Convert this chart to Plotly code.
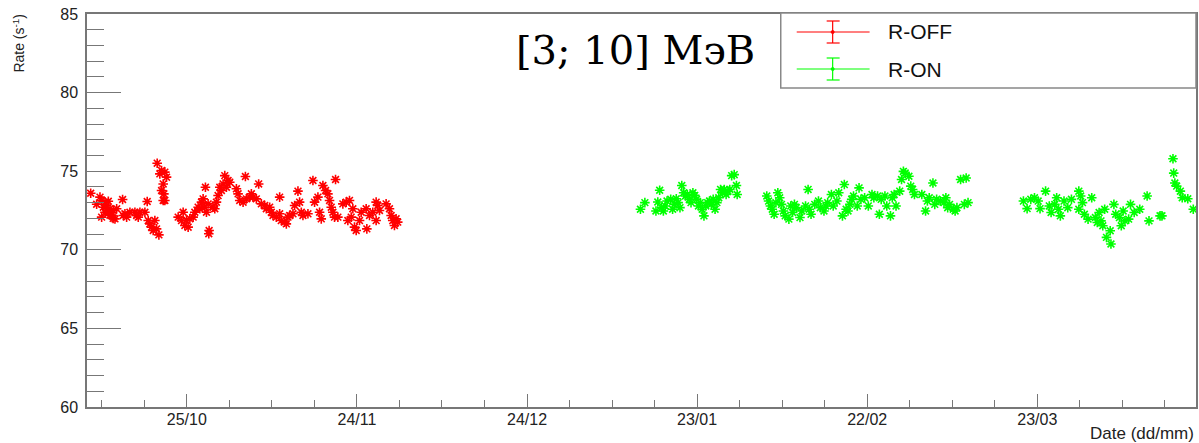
import pandas as pd
import plotly.graph_objects as go

# Measurement times are stored as days elapsed since this reference date
T0 = pd.Timestamp("2019-10-01")

# Reactor OFF period: count rate in [3; 10] MeV window
off_days = [
    7.04, 8.09, 8.68, 8.97, 9.56, 10.15, 9.27, 9.85, 10.44, 11.03, 10.73, 8.97, 11.32, 11.62, 10.15, 9.56, 10.44, 11.00,
    12.67, 12.79, 13.08, 13.38, 13.96, 14.84, 15.14, 15.43, 15.72, 16.60,
    17.01, 17.19, 17.48, 17.78, 18.07, 18.36, 18.66, 19.07,
    18.77, 19.24, 19.54, 20.12, 19.83, 19.54, 20.42, 19.95, 20.12, 19.83,
    22.47, 23.06, 23.35, 23.65, 23.94, 24.23, 24.53, 25.11, 25.41, 25.99, 26.29, 26.58, 26.87, 27.17, 27.46, 27.75,
    27.28, 27.87, 27.93,
    28.63, 28.93, 29.22, 29.51, 29.81, 30.10, 30.39, 30.69, 30.98, 31.27, 31.57,
    32.74, 33.04, 33.33, 33.92, 34.33, 34.50, 35.09, 35.38, 35.68, 36.26, 36.67,
    37.14, 37.73, 38.02, 38.61, 38.90, 39.20, 39.78, 40.37, 40.37, 40.66, 41.25, 41.55, 41.84, 42.13, 42.72, 43.01,
    43.60, 43.89, 44.19, 44.48,
    45.36, 46.24, 46.53, 47.12, 47.41, 47.71, 48.00, 48.47, 48.88, 49.17, 49.47, 49.76, 50.05, 50.23, 50.64,
    51.52, 52.11, 52.40, 52.69, 52.99, 53.28, 53.57, 53.87, 54.46, 54.75,
    55.63, 55.75, 56.22, 56.80, 57.39, 57.39, 57.68, 57.98, 59.15, 59.74, 60.03, 60.32, 60.62, 60.91, 61.20,
]
off_rate = [
    73.60, 72.90, 73.35, 73.14, 73.03, 73.09, 72.71, 72.82, 72.61, 72.50, 72.18, 72.08, 71.97, 72.61, 72.39, 72.39, 72.20, 72.00,
    73.20, 72.18, 72.29, 72.08, 72.39, 72.39, 72.18, 72.08, 72.39, 72.39,
    73.07, 71.86, 71.65, 71.44, 71.23, 71.86, 71.33, 70.95,
    75.51, 74.83, 75.04, 74.94, 74.19, 73.77, 74.62, 73.56, 73.14, 73.14,
    72.08, 71.86, 72.39, 71.55, 71.86, 71.44, 71.97, 72.08, 72.39, 72.71, 72.61, 73.03, 73.24, 72.71, 72.39, 72.92,
    73.98, 71.02, 71.23,
    72.71, 72.61, 73.03, 73.45, 73.98, 73.77, 74.19, 74.72, 73.98, 74.41, 74.30,
    73.88, 73.56, 73.14, 73.03, 74.66, 73.24, 73.35, 73.56, 73.35, 73.24, 74.19,
    72.92, 72.82, 72.61, 72.71, 72.39, 72.18, 72.08, 72.29, 73.35, 71.86, 71.76, 71.65, 72.08, 72.18, 72.29, 72.82,
    73.73, 73.03, 72.39, 72.18,
    72.29, 74.41, 73.03, 73.35, 72.39, 71.97, 74.09, 73.77, 73.56, 73.14, 72.71, 72.39, 72.08, 74.47, 72.08,
    72.92, 73.03, 71.86, 73.14, 72.08, 72.61, 71.44, 71.23, 71.86, 72.39,
    72.61, 71.33, 72.18, 72.39, 73.03, 71.86, 72.82, 72.50, 72.92, 72.61, 72.18, 71.86, 71.55, 71.97, 71.76,
]

# Reactor ON period
on_days = [
    104.01, 104.79, 107.07, 107.40, 106.74, 107.72, 108.05, 108.37, 108.70, 109.35, 109.68, 110.00, 110.33, 110.65,
    110.98, 111.30, 111.63, 111.96, 112.28, 112.61, 112.93, 113.26, 113.58, 113.91, 114.24, 114.56, 114.89, 115.21,
    115.54, 115.86, 116.19, 116.52, 116.84, 117.17, 117.49, 117.82, 118.14, 118.47, 118.79, 119.12, 119.45, 119.77,
    120.10, 120.55, 120.94, 121.07,
    126.29, 126.61, 126.94, 127.26, 127.59, 127.91, 128.24, 128.57, 128.89, 129.22, 129.54, 130.19, 130.52, 130.85,
    131.17, 131.50, 132.15, 132.47, 133.13, 133.58, 133.78, 134.10, 134.75, 135.41, 135.73, 136.38, 136.71, 137.03,
    137.69, 138.01, 138.66, 138.99, 139.64, 139.97, 140.29, 140.62, 140.94, 141.27, 141.59, 142.25, 142.57, 142.90,
    143.55, 144.20, 144.85, 145.18, 145.83, 146.15, 146.48, 147.13, 147.46, 148.11, 148.43, 148.76, 149.09, 149.74,
    150.06, 150.39, 150.71, 151.36, 151.69, 152.02, 152.34, 153.64, 154.30, 154.62, 154.95, 155.60, 155.92, 156.25,
    156.90, 157.55, 157.88, 158.20, 158.53, 159.18, 159.51, 159.83, 160.48, 161.14, 161.46, 161.79,
    171.56, 172.21, 172.86, 173.51, 174.16, 174.49, 175.47, 176.12, 176.44, 177.10, 177.42, 177.75, 178.07, 178.72,
    179.38, 180.03, 181.33, 181.33, 181.66, 181.98, 182.31, 182.96, 183.61, 184.26, 184.59, 184.91, 185.24, 185.56,
    185.89, 186.21, 186.87, 187.00, 187.52, 187.84, 188.49, 188.82, 189.15, 189.47, 190.12, 190.45, 191.10, 192.08,
    193.38, 193.71, 195.66, 195.99, 197.94, 198.07, 198.27, 198.59, 199.24, 199.57, 200.55, 201.52,
]
on_rate = [
    72.58, 73.00, 73.04, 73.79, 72.47, 72.68, 72.47, 72.79, 73.10, 73.21, 72.58, 72.89, 73.25, 73.00,
    72.68, 74.09, 73.63, 73.42, 73.52, 73.21, 73.00, 73.63, 73.46, 73.21, 72.79, 73.00, 72.58, 72.16,
    72.79, 73.00, 73.10, 72.89, 73.21, 72.58, 73.00, 73.31, 73.84, 73.63, 73.84, 73.52, 73.73, 73.84,
    74.72, 74.78, 74.09, 73.52,
    73.42, 73.10, 72.79, 72.58, 72.26, 73.00, 73.63, 73.31, 72.89, 72.47, 72.16, 71.95, 72.79, 72.37,
    72.89, 72.68, 72.05, 72.47, 72.79, 73.84, 72.58, 72.26, 72.89, 73.10, 72.68, 72.47, 72.79, 73.00,
    73.52, 72.79, 73.10, 73.63, 72.16, 74.15, 72.58, 72.47, 72.89, 73.21, 73.42, 72.79, 73.94, 73.21,
    73.31, 72.79, 73.52, 73.31, 73.42, 72.26, 73.21, 73.42, 72.79, 72.16, 73.31, 73.52, 72.79, 73.73,
    74.47, 74.99, 74.88, 74.68, 74.05, 73.84, 73.52, 73.52, 72.47, 73.10, 73.31, 74.25, 72.89, 73.21,
    73.10, 73.00, 73.31, 72.68, 72.89, 72.58, 72.47, 72.68, 74.47, 72.89, 74.57, 73.00,
    73.10, 72.62, 73.21, 73.31, 73.10, 72.62, 73.73, 72.79, 72.37, 72.89, 73.31, 72.58, 72.16, 73.10,
    72.68, 73.21, 73.73, 72.58, 73.42, 73.00, 72.26, 71.95, 73.31, 72.05, 71.74, 72.37, 71.84, 71.53,
    72.58, 70.79, 71.21, 70.37, 72.89, 72.26, 72.05, 71.53, 72.47, 71.84, 71.95, 72.89, 72.37, 72.58,
    73.42, 71.84, 72.16, 72.16, 75.79, 74.88, 74.25, 74.05, 73.73, 73.31, 73.25, 72.58,
]

tick_dates = ["2019-10-25", "2019-11-24", "2019-12-24", "2020-01-23", "2020-02-22", "2020-03-23"]
tick_text = ["25/10", "24/11", "24/12", "23/01", "22/02", "23/03"]
y_ticks = [60, 65, 70, 75, 80, 85]
x_window = [6.39, 202.0]  # days since T0 shown on the time axis

off_t = T0 + pd.to_timedelta(off_days, unit="D")
on_t = T0 + pd.to_timedelta(on_days, unit="D")
x_range = list(T0 + pd.to_timedelta(x_window, unit="D"))

W, H = 1199, 443
ML, MR, MT, MB = 87, 1, 14, 36
PW, PH = W - ML - MR, H - MT - MB


def px(x):
    return (x - ML) / PW


def py(y):
    return (MT + PH - y) / PH


SANS = "Liberation Sans, Arial, Helvetica, sans-serif"
RED, GREEN = "#ff0000", "#00ff00"
FRAME = "#777777"

fig = go.Figure()
for t, r, c, name in [(off_t, off_rate, RED, "R-OFF"), (on_t, on_rate, GREEN, "R-ON")]:
    fig.add_trace(go.Scatter(
        x=t, y=r, mode="markers", name=name, showlegend=False,
        marker=dict(symbol="asterisk", size=8, color=c, line=dict(color=c, width=1.6)),
    ))

fig.update_layout(
    width=W, height=H,
    margin=dict(l=ML, r=MR, t=MT, b=MB, pad=0),
    paper_bgcolor="white", plot_bgcolor="white",
    font=dict(family=SANS, color="#222222"),
    xaxis=dict(
        type="date", range=x_range,
        tickvals=tick_dates, ticktext=tick_text,
        ticks="inside", ticklen=13, tickwidth=1, tickcolor=FRAME,
        minor=dict(ticks="inside", ticklen=7, tickwidth=1, tickcolor=FRAME,
                   dtick=7.5 * 86400000, tick0="2019-10-25", showgrid=False),
        showline=True, linecolor=FRAME, linewidth=1.5, mirror=True,
        showgrid=False, zeroline=False,
        tickfont=dict(size=16, family=SANS, color="#222222"),
        ticklabelstandoff=-3,
    ),
    yaxis=dict(
        range=[60, 85], tickvals=y_ticks,
        ticks="inside", ticklen=34, tickwidth=1, tickcolor=FRAME,
        minor=dict(ticks="inside", ticklen=17, tickwidth=1, tickcolor=FRAME, dtick=1, showgrid=False),
        showline=True, linecolor=FRAME, linewidth=1.5, mirror=True,
        showgrid=False, zeroline=False,
        tickfont=dict(size=16, family=SANS, color="#222222"),
        ticklabelstandoff=4,
    ),
)

shapes = []
annotations = []

# Legend box with error-bar style entries
shapes.append(dict(type="rect", xref="paper", yref="paper",
                   x0=px(782), x1=px(1198), y0=py(88), y1=py(13),
                   line=dict(color="#888888", width=1.5), fillcolor="white", layer="above"))
for color, yc, label in [(RED, 32, "R-OFF"), (GREEN, 69, "R-ON")]:
    seg = dict(xref="paper", yref="paper", type="line", line=dict(color=color, width=1.2), layer="above")
    shapes.append(dict(seg, x0=px(798), x1=px(871), y0=py(yc), y1=py(yc)))
    shapes.append(dict(seg, x0=px(834), x1=px(834), y0=py(yc - 11), y1=py(yc + 11)))
    shapes.append(dict(seg, x0=px(828), x1=px(841), y0=py(yc - 11), y1=py(yc - 11)))
    shapes.append(dict(seg, x0=px(828), x1=px(841), y0=py(yc + 11), y1=py(yc + 11)))
    shapes.append(dict(type="circle", xref="paper", yref="paper", layer="above",
                       x0=px(832.5), x1=px(835.5), y0=py(yc + 1.5), y1=py(yc - 1.5),
                       line=dict(color=color, width=1), fillcolor=color))
    annotations.append(dict(text=label, xref="paper", yref="paper", x=px(887), y=py(yc),
                            xanchor="left", yanchor="middle", showarrow=False,
                            font=dict(size=21, family=SANS, color="#111111")))

# Energy window label
annotations.append(dict(text="[3; 10] МэВ", xref="paper", yref="paper", x=px(636), y=py(50),
                        xanchor="center", yanchor="middle", showarrow=False,
                        font=dict(size=40, family="DejaVu Serif, serif", color="#000000")))

# Axis titles
annotations.append(dict(text="Rate (s<sup>-1</sup>)", xref="paper", yref="paper", x=px(18), y=py(12),
                        xanchor="center", yanchor="top", textangle=-90, showarrow=False,
                        font=dict(size=14, family=SANS, color="#222222")))
annotations.append(dict(text="Date (dd/mm)", xref="paper", yref="paper", x=px(1198), y=py(433),
                        xanchor="right", yanchor="middle", showarrow=False,
                        font=dict(size=17, family=SANS, color="#222222")))

fig.update_layout(shapes=shapes, annotations=annotations)
fig.write_html("out.html")
